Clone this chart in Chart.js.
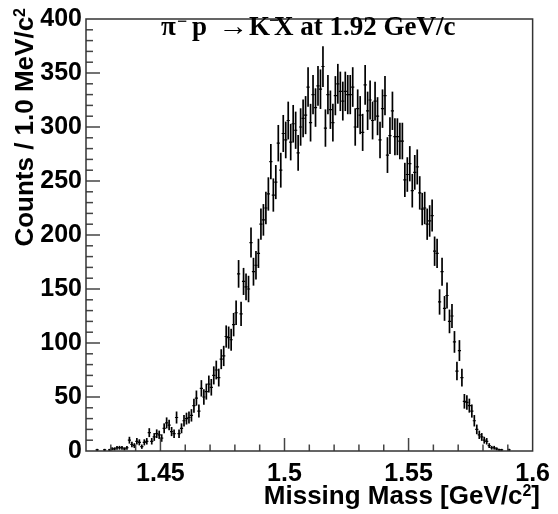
<!DOCTYPE html>
<html>
<head>
<meta charset="utf-8">
<script src="https://cdn.jsdelivr.net/npm/chart.js@4.4.1/dist/chart.umd.min.js"></script>
<style>
html, body { margin: 0; padding: 0; background: #fff; }
#wrap { width: 558px; height: 514px; }
</style>
</head>
<body>
<div id="wrap"><canvas id="massChart"></canvas></div>
<script>
// histogram definition: 1 MeV bins from 1.42 to 1.60 GeV
const massMin = 1.42;
const massMax = 1.6;
const binWidth = 0.001;

// counts per bin
const counts = [
    0, 0, 0, 0, 1, 0, 0, 1, 0, 1,
    2, 2, 3, 3, 3, 2, 3, 10, 6, 5,
    9, 8, 4, 8, 9, 17, 9, 13, 16, 15,
    12, 21, 26, 24, 18, 16, 31, 16, 21, 28,
    30, 31, 33, 42, 49, 37, 58, 50, 55, 62,
    59, 70, 75, 68, 85, 88, 106, 105, 103, 117,
    128, 164, 127, 157, 152, 150, 193, 166, 172, 183,
    210, 214, 225, 238, 268, 237, 249, 285, 260, 294,
    288, 306, 286, 303, 297, 276, 300, 308, 311, 337,
    304, 330, 318, 338, 335, 356, 299, 330, 316, 304,
    329, 340, 333, 324, 333, 330, 330, 337, 300, 317,
    311, 295, 339, 315, 325, 306, 324, 310, 288, 317,
    329, 274, 292, 315, 291, 291, 287, 287, 251, 256,
    266, 241, 258, 263, 239, 224, 225, 210, 213, 218,
    185, 183, 138, 166, 132, 144, 120, 125, 101, 74,
    93, 68, 46, 45, 42, 37, 28, 20, 15, 13,
    10, 9, 5, 3, 3, 2, 1, 1, 0, 0,
    1, 0, 0, 0, 0, 0, 0, 0, 0, 0
];

const xTickValues = [1.45, 1.5, 1.55, 1.6];
const yTickValues = [0, 50, 100, 150, 200, 250, 300, 350, 400];
const xMinorStep = 0.01;
const yMinorStep = 10;
const xTitle = 'Missing Mass [GeV/c';
const yTitle = 'Counts / 1.0 MeV/c';

const points = counts.map((c, i) => ({
    x: massMin + (i + 0.5) * binWidth,
    y: c > 0 ? c : null
}));

const labelFont = { family: '"Liberation Sans", Arial, sans-serif', weight: 'bold', size: 25 };
const titleFont = 'bold 26px "Liberation Sans", Arial, sans-serif';
const supFont = 'bold 16px "Liberation Sans", Arial, sans-serif';

const histPainter = {
    id: 'histPainter',
    beforeDatasetsDraw(chart) {
        const ctx = chart.ctx;
        const xs = chart.scales.x, ys = chart.scales.y;
        const area = chart.chartArea;
        ctx.save();
        ctx.strokeStyle = '#000';
        ctx.lineWidth = 1.7;
        points.forEach(p => {
            if (p.y === null) return;
            const err = Math.sqrt(p.y);
            const px = xs.getPixelForValue(p.x);
            const top = Math.max(ys.getPixelForValue(p.y + err), area.top);
            const bot = Math.min(ys.getPixelForValue(Math.max(p.y - err, 0)), area.bottom);
            ctx.beginPath();
            ctx.moveTo(px, top);
            ctx.lineTo(px, bot);
            ctx.stroke();
        });
        ctx.restore();
    },
    afterDraw(chart) {
        const ctx = chart.ctx;
        const xs = chart.scales.x, ys = chart.scales.y;
        const a = chart.chartArea;
        ctx.save();

        // inward ticks
        ctx.strokeStyle = '#444';
        ctx.lineWidth = 1.5;
        for (let v = massMin; v <= massMax + 1e-9; v += xMinorStep) {
            const px = xs.getPixelForValue(v);
            if (px <= a.left + 1 || px >= a.right - 1) continue;
            const major = xTickValues.some(t => Math.abs(t - v) < 1e-6);
            ctx.beginPath();
            ctx.moveTo(px, a.bottom);
            ctx.lineTo(px, a.bottom - (major ? 13 : 6.5));
            ctx.stroke();
        }
        for (let v = 0; v <= 400; v += yMinorStep) {
            const py = ys.getPixelForValue(v);
            if (py >= a.bottom - 1 || py <= a.top + 1) continue;
            const major = v % 50 === 0;
            ctx.beginPath();
            ctx.moveTo(a.left, py);
            ctx.lineTo(a.left + (major ? 14 : 7), py);
            ctx.stroke();
        }

        // frame
        ctx.lineWidth = 1.5;
        ctx.strokeStyle = '#333';
        ctx.strokeRect(a.left, a.top, a.right - a.left, a.bottom - a.top);

        ctx.fillStyle = '#000';
        ctx.textBaseline = 'alphabetic';
        ctx.textAlign = 'left';

        // x axis title, right aligned near the frame edge
        ctx.font = titleFont;
        const wMain = ctx.measureText(xTitle).width;
        const wBr = ctx.measureText(']').width;
        ctx.font = supFont;
        const wSup = ctx.measureText('2').width;
        let tx = 540 - wBr - wSup - wMain;
        ctx.font = titleFont;
        ctx.fillText(xTitle, tx, 504);
        tx += wMain;
        ctx.font = supFont;
        ctx.fillText('2', tx, 496);
        tx += wSup;
        ctx.font = titleFont;
        ctx.fillText(']', tx, 504);

        // y axis title, rotated, ending near the top
        ctx.save();
        ctx.translate(33, 0);
        ctx.rotate(-Math.PI / 2);
        ctx.font = titleFont;
        const wy = ctx.measureText(yTitle).width;
        ctx.font = supFont;
        const wys = ctx.measureText('2').width;
        const ty = -(8 + wys + wy);
        ctx.font = titleFont;
        ctx.fillText(yTitle, ty, 0);
        ctx.font = supFont;
        ctx.fillText('2', ty + wy, -8);
        ctx.restore();

        // header inside the frame
        const big = 'bold 27px "Liberation Serif", "Times New Roman", serif';
        const small = 'bold 18px "Liberation Serif", "Times New Roman", serif';
        const base = 35;
        ctx.font = big;
        ctx.fillText('\u03C0', 161, base);
        ctx.font = small;
        ctx.fillText('\u2212', 177, base - 8);
        ctx.font = big;
        ctx.fillText('p', 192, base);
        const arrowW = ctx.measureText('\u2192').width;
        ctx.save();
        ctx.translate(218, base);
        ctx.scale(30 / arrowW, 1);
        ctx.fillText('\u2192', 0, 0);
        ctx.restore();
        ctx.font = big;
        ctx.fillText('K', 249, base);
        ctx.font = small;
        ctx.fillText('\u2212', 269, base - 9);
        ctx.font = big;
        ctx.fillText('X at 1.92 GeV/c', 274, base);

        ctx.restore();
    }
};

new Chart(document.getElementById('massChart'), {
    type: 'scatter',
    data: {
        datasets: [{
            data: points,
            showLine: false,
            pointStyle: 'line',
            pointRadius: 1.6,
            borderColor: '#000',
            backgroundColor: '#000',
            borderWidth: 1.2
        }]
    },
    options: {
        responsive: true,
        maintainAspectRatio: false,
        animation: false,
        devicePixelRatio: 1,
        layout: { padding: { top: 14, right: 21, left: 0, bottom: 0 } },
        plugins: {
            legend: { display: false },
            tooltip: { enabled: false }
        },
        scales: {
            x: {
                type: 'linear',
                min: massMin,
                max: massMax,
                afterBuildTicks: s => { s.ticks = xTickValues.map(v => ({ value: v })); },
                afterFit: s => { s.height = 63; },
                grid: { display: false, drawTicks: false },
                border: { display: false },
                ticks: {
                    font: labelFont,
                    color: '#000',
                    padding: 8,
                    maxRotation: 0,
                    autoSkip: false,
                    callback: v => String(v)
                }
            },
            y: {
                type: 'linear',
                min: 0,
                max: 400,
                afterBuildTicks: s => { s.ticks = yTickValues.map(v => ({ value: v })); },
                afterFit: s => { s.width = 86; },
                grid: { display: false, drawTicks: false },
                border: { display: false },
                ticks: {
                    font: labelFont,
                    color: '#000',
                    padding: 4,
                    callback: v => String(v)
                }
            }
        }
    },
    plugins: [histPainter]
});
</script>
</body>
</html>
